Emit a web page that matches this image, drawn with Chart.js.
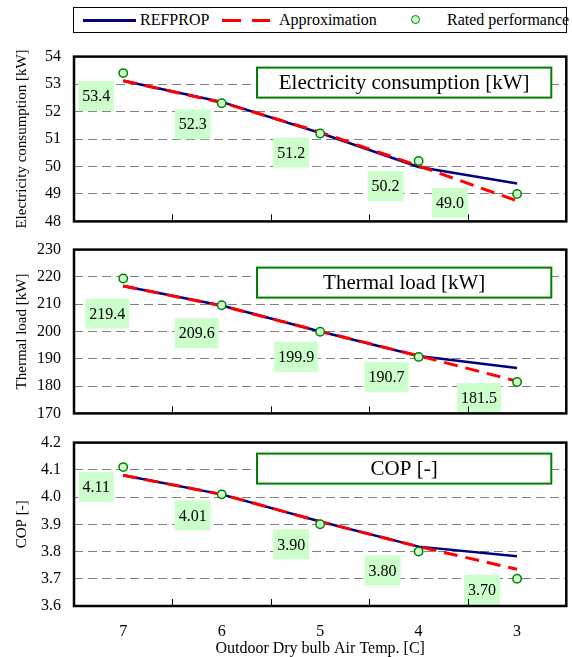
<!DOCTYPE html>
<html><head><meta charset="utf-8">
<script src="https://cdn.jsdelivr.net/npm/chart.js@4.4.1/dist/chart.umd.min.js"></script>
<style>
html,body{margin:0;padding:0;background:#fff;}
#wrap{position:relative;width:572px;height:657px;overflow:hidden;font-family:"Liberation Serif","Times New Roman",serif;}
canvas{position:absolute;left:0;}
#legend{position:absolute;left:73px;top:7px;width:494px;height:26px;border:1px solid #000;box-sizing:border-box;font-size:16px;color:#000;}
#legend span{position:absolute;top:3px;white-space:nowrap;line-height:18px;}
.ln{position:absolute;height:0;}
</style></head>
<body>
<div id="wrap">
  <div id="legend">
    <div class="ln" style="left:9px;top:11px;width:53px;border-top:3px solid #000080;"></div>
    <span style="left:66px;">REFPROP</span>
    <div class="ln" style="left:148px;top:11px;width:19px;border-top:3px solid #ff0000;"></div>
    <div class="ln" style="left:178px;top:11px;width:18px;border-top:3px solid #ff0000;"></div>
    <span style="left:205px;">Approximation</span>
    <div style="position:absolute;left:337px;top:7px;width:7px;height:7px;border:1.5px solid #008000;border-radius:50%;background:#ccffcc;"></div>
    <span style="left:373px;">Rated performance</span>
  </div>
  <canvas id="c1" width="572" height="210" style="top:34px;width:572px;height:210px;"></canvas>
  <canvas id="c2" width="572" height="209" style="top:227px;width:572px;height:209px;"></canvas>
  <canvas id="c3" width="572" height="237" style="top:420px;width:572px;height:237px;"></canvas>
</div>
<script>
// ---- data ----
const temps = [7, 6, 5, 4, 3];
const minorTicks = [6.5, 5.5, 4.5, 3.5];

const elecRated   = [53.4, 52.3, 51.2, 50.2, 49.0];
const elecRefprop = [53.12, 52.35, 51.22, 49.98, 49.38];
const elecApprox  = [53.12, 52.33, 51.25, 50.02, 48.75];

const thermRated   = [219.4, 209.6, 199.9, 190.7, 181.5];
const thermRefprop = [216.7, 209.5, 200.0, 191.0, 186.6];
const thermApprox  = [216.7, 209.4, 200.1, 191.1, 181.8];

const copRated   = [4.11, 4.01, 3.90, 3.80, 3.70];
const copRefprop = [4.08, 4.01, 3.91, 3.818, 3.783];
const copApprox  = [4.08, 4.01, 3.91, 3.818, 3.735];

const FONT = '"Liberation Serif","Times New Roman",serif';
Chart.defaults.font.family = FONT;
Chart.defaults.color = '#000';

function pts(arr){ return temps.map((t,i)=>({x:t,y:arr[i]})); }

const panelPlugin = {
  id: 'panelDeco',
  beforeDatasetsDraw(chart, args, opts) {
    const ctx = chart.ctx, a = chart.chartArea;
    ctx.save();
    // title box
    const bx = a.left + 183, bw = a.right - 15 - bx, by = a.top + opts.titleTop, bh = 30;
    ctx.fillStyle = '#fff';
    ctx.fillRect(bx, by, bw, bh);
    ctx.strokeStyle = '#008000'; ctx.lineWidth = 2;
    ctx.strokeRect(bx, by, bw, bh);
    ctx.fillStyle = '#000';
    ctx.font = '21px ' + FONT;
    ctx.textAlign = 'center'; ctx.textBaseline = 'middle';
    ctx.fillText(opts.title, bx + bw/2, by + bh/2 + 1);
    // value labels
    const meta = chart.getDatasetMeta(0);
    ctx.font = '16px ' + FONT;
    meta.data.forEach((p, i) => {
      const txt = opts.values[i].toFixed(opts.decimals);
      const off = opts.offsets[i];
      const cx = p.x + off[0], cy = p.y + off[1];
      const w = ctx.measureText(txt).width + 8, h = 30;
      ctx.fillStyle = '#ccffcc';
      ctx.fillRect(cx - w/2, cy - h/2, w, h);
      ctx.fillStyle = '#000';
      ctx.fillText(txt, cx, cy + 1);
    });
    ctx.restore();
  },
  afterDraw(chart) {
    const ctx = chart.ctx, a = chart.chartArea, xs = chart.scales.x;
    ctx.save();
    ctx.strokeStyle = '#000'; ctx.lineWidth = 1;
    minorTicks.forEach(v => {
      const x = Math.round(xs.getPixelForValue(v)) + 0.5;
      ctx.beginPath(); ctx.moveTo(x, a.bottom); ctx.lineTo(x, a.bottom - 7); ctx.stroke();
    });
    ctx.lineWidth = 2.5;
    ctx.strokeRect(a.left, a.top, a.right - a.left, a.bottom - a.top);
    ctx.restore();
  }
};

function makeChart(id, rated, ref, appr, yMin, yMax, step, dec, yTitle, title, titleTop, offsets, showX) {
  return new Chart(document.getElementById(id), {
    type: 'scatter',
    data: { datasets: [
      { label: 'Rated performance', data: pts(rated), order: 0, showLine: false,
        pointRadius: 4.2, pointHoverRadius: 4.2, pointBackgroundColor: '#ccffcc', pointBorderColor: '#008000', pointBorderWidth: 1.5 },
      { label: 'Approximation', data: pts(appr), order: 1, showLine: true, borderColor: '#ff0000',
        borderWidth: 3, borderDash: [14, 8], pointRadius: 0, tension: 0 },
      { label: 'REFPROP', data: pts(ref), order: 2, showLine: true, borderColor: '#000080',
        borderWidth: 2.5, pointRadius: 0, tension: 0 }
    ]},
    options: {
      responsive: false, animation: false,
      layout: { padding: { top: 12, bottom: 0, left: 0, right: 3 } },
      plugins: { legend: { display: false }, tooltip: { enabled: false },
        panelDeco: { title: title, titleTop: titleTop, values: rated, decimals: dec, offsets: offsets } },
      scales: {
        x: { type: 'linear', min: 2.5, max: 7.5, reverse: true, display: showX,
          afterBuildTicks: s => { s.ticks = temps.map(v => ({ value: v })); },
          afterFit: s => { s.height = showX ? 51 : 0; },
          grid: { display: false, drawTicks: false, tickLength: 0 },
          border: { display: false },
          ticks: { padding: 16, font: { size: 16 }, color: '#000', autoSkip: false },
          title: { display: true, text: 'Outdoor Dry bulb Air Temp. [C]', font: { size: 16, lineHeight: 1 }, padding: { top: 0, bottom: 0 }, color: '#000' }
        },
        y: { min: yMin, max: yMax,
          afterBuildTicks: s => { const t = []; const n = Math.round((yMax - yMin) / step); for (let i = 0; i <= n; i++) t.push({ value: yMin + i * step }); s.ticks = t; },
          afterFit: s => { s.width = 74; },
          ticks: { padding: 13, font: { size: 16 }, color: '#000', autoSkip: false, callback: v => Number(v).toFixed(dec === 2 ? 1 : 0) },
          grid: { drawTicks: false, tickLength: 0, lineWidth: 1,
            color: c => (Math.abs(c.tick.value - yMin) < 1e-9 || Math.abs(c.tick.value - yMax) < 1e-9) ? 'rgba(0,0,0,0)' : '#808080' },
          border: { display: false, dash: [9, 5] },
          title: { display: true, text: yTitle, font: { size: 15 }, padding: { top: 13, bottom: 0 }, color: '#000' }
        }
      }
    },
    plugins: [panelPlugin]
  });
}

makeChart('c1', elecRated, elecRefprop, elecApprox, 48, 54, 1, 1,
  'Electricity consumption [kW]', 'Electricity consumption [kW]', 11,
  [[-27,23],[-29,21],[-29,19],[-33,25],[-67,9]], false);
makeChart('c2', thermRated, thermRefprop, thermApprox, 170, 230, 10, 1,
  'Thermal load [kW]', 'Thermal load [kW]', 18,
  [[-16,35],[-25,28],[-24,25],[-32,20],[-38,16]], false);
makeChart('c3', copRated, copRefprop, copApprox, 3.6, 4.2, 0.1, 2,
  'COP [-]', 'COP [-]', 11,
  [[-27,20],[-29,21],[-29,20],[-36,19],[-35,11]], true);
</script>
</body></html>
